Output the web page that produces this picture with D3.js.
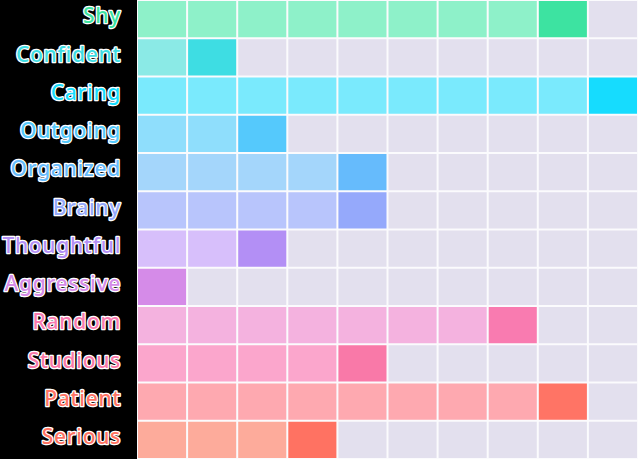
<!DOCTYPE html>
<html><head><meta charset="utf-8">
<script src="https://cdn.jsdelivr.net/npm/d3@7"></script>
<style>
html,body{margin:0;padding:0;background:#000;}
svg{display:block;}
</style></head>
<body>
<svg id="chart" width="638" height="459"></svg>
<script>
const traits = ["Shy","Confident","Caring","Outgoing","Organized","Brainy","Thoughtful","Aggressive","Random","Studious","Patient","Serious"];
const counts = [9,2,10,3,5,5,3,1,8,5,9,4];
const columns = [1,2,3,4,5,6,7,8,9,10];
const lightColors = ["#8ef1c9","#8beae6","#7aeafd","#8fdefc","#a4d6fb","#b8c5fc","#d7bffb","#d58be8","#f4b2df","#fba6cc","#fea9b0","#fdab9b"];
const darkColors  = ["#3de3a1","#3edde3","#16dcfe","#55c9fc","#66bbfc","#95a9fb","#b38ff5","#d58be8","#f97bb0","#f979a8","#ff7465","#ff7262"];
const emptyColor = "#e3e0ee";

const W = 638, H = 459;
const svg = d3.select("#chart");
const x = d3.scaleBand().domain(columns).range([137, W]);
const y = d3.scaleBand().domain(traits).range([0, H]);

svg.append("rect").attr("x",137).attr("y",0).attr("width",W-137).attr("height",H).attr("fill","#fbfbfd");

const cells = [];
traits.forEach((t,ri)=>{
  columns.forEach((c,ci)=>{
    let fill = emptyColor;
    if (c < counts[ri]) fill = lightColors[ri];
    else if (c === counts[ri]) fill = darkColors[ri];
    cells.push({t,c,fill});
  });
});

svg.append("g").selectAll("rect").data(cells).join("rect")
  .attr("x", d=>x(d.c)+1)
  .attr("y", d=>y(d.t)+1)
  .attr("width", x.bandwidth()-2)
  .attr("height", y.bandwidth()-2)
  .attr("fill", d=>d.fill);

const yAxis = d3.axisLeft(y).tickSize(0).tickPadding(0);
const ag = svg.append("g").attr("transform","translate(121,0)").call(yAxis);
ag.select(".domain").remove();
ag.selectAll("text")
  .attr("font-family","'Noto Sans', sans-serif")
  .attr("font-weight","500")
  .attr("font-size","21px")
  .attr("letter-spacing","0.7px")
  .attr("dy","0.35em")
  .attr("y",-3)
  .attr("x",0)
  .attr("text-anchor","end")
  .attr("fill",(d,i)=>darkColors[i])
  .attr("stroke","#ffffff")
  .attr("stroke-width",2.5)
  .attr("stroke-linejoin","round")
  .attr("paint-order","stroke");
</script>
</body></html>
